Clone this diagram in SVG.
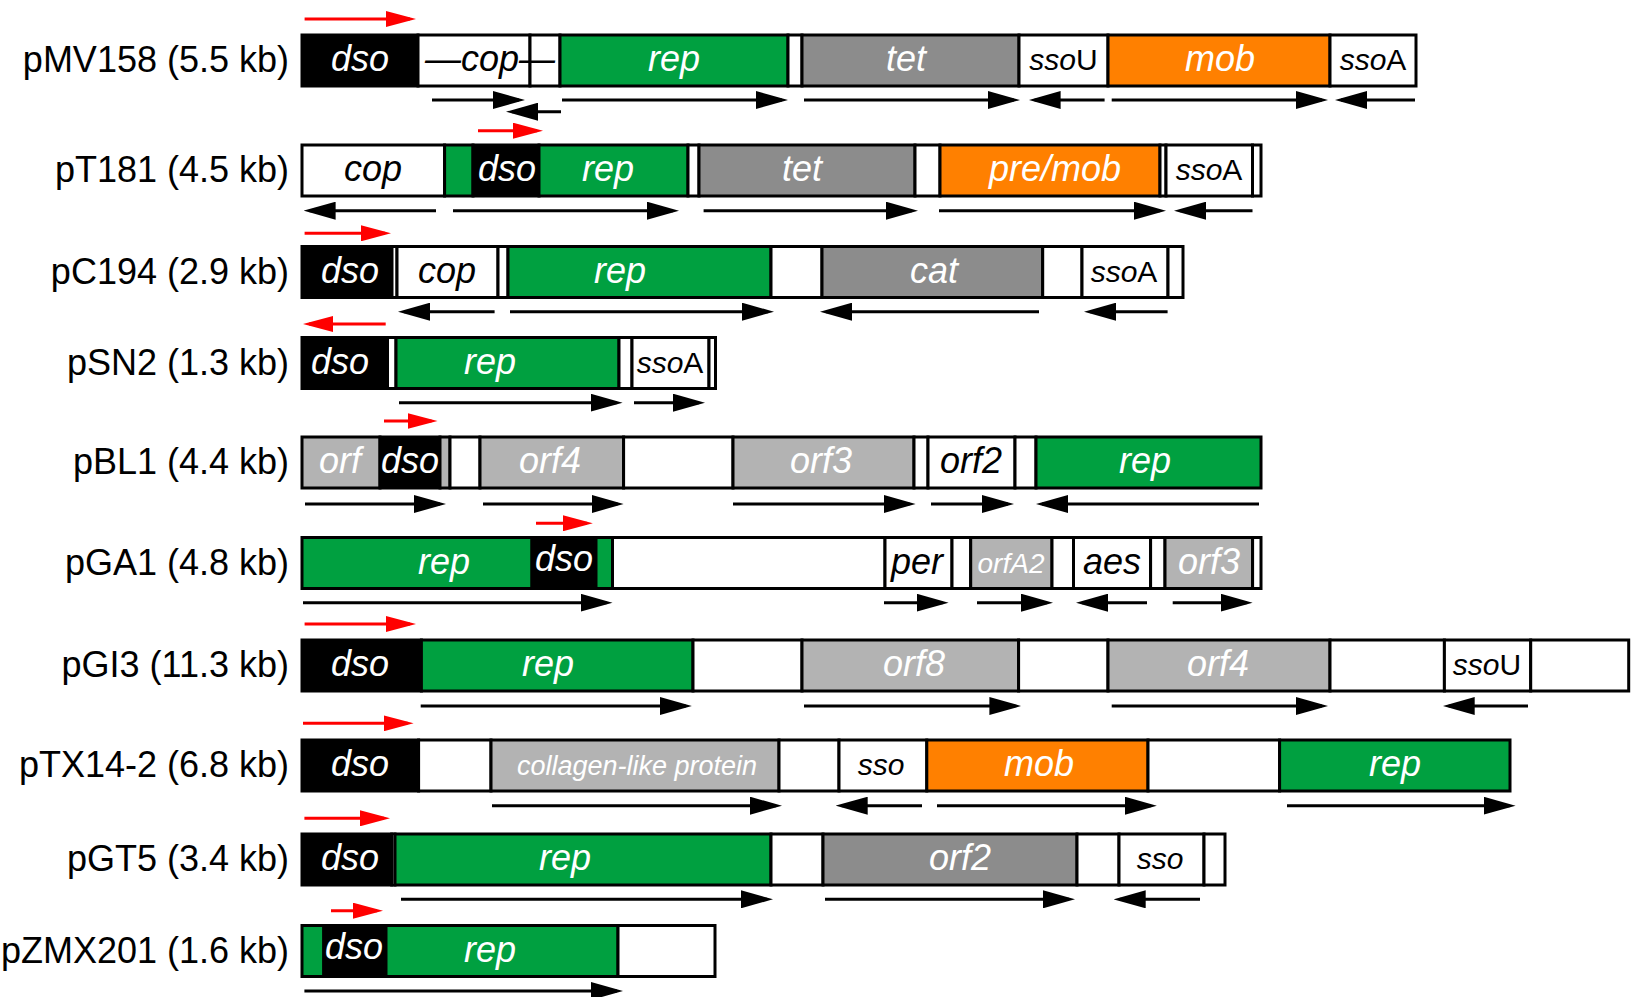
<svg xmlns="http://www.w3.org/2000/svg" width="1632" height="997" viewBox="0 0 1632 997">
<style>
.bg{fill:#fff}
.s{stroke:#000;stroke-width:3}
.k{fill:#000}.w{fill:#fff}.g{fill:#00a040}.o{fill:#ff8000}.dg{fill:#8c8c8c}.lg{fill:#b3b3b3}
.lbl{font-family:"Liberation Sans",Arial,sans-serif;font-size:36px;text-anchor:end;fill:#000}
.gt{font-family:"Liberation Sans",Arial,sans-serif;font-size:36px;font-style:italic;text-anchor:middle;fill:#fff}
.gb{font-family:"Liberation Sans",Arial,sans-serif;font-size:36px;font-style:italic;text-anchor:middle;fill:#000}
.sl{font-family:"Liberation Sans",Arial,sans-serif;font-size:30px;text-anchor:middle;fill:#000}
.it{font-style:italic}
.ar{stroke:#000;stroke-width:3;fill:none;marker-end:url(#ah)}
.rr{stroke:#f00;stroke-width:3;fill:none;marker-end:url(#rh)}
</style>
<defs>
<marker id="ah" markerUnits="userSpaceOnUse" markerWidth="32" markerHeight="18" refX="26" refY="9" orient="auto"><path d="M0,0 L32,9 L0,18 z" fill="#000"/></marker>
<marker id="rh" markerUnits="userSpaceOnUse" markerWidth="30" markerHeight="16" refX="24" refY="8" orient="auto"><path d="M0,0 L30,8 L0,16 z" fill="#f00"/></marker>
</defs>
<rect class="bg" x="0" y="0" width="1632" height="997"/>

<g id="pMV158">
<text class="lbl" x="289" y="72">pMV158 (5.5 kb)</text>
<rect class="s k" x="302" y="35" width="116" height="51"/>
<rect class="s w" x="418" y="35" width="112" height="51"/>
<rect class="s w" x="530" y="35" width="30" height="51"/>
<rect class="s g" x="560" y="35" width="228" height="51"/>
<rect class="s w" x="788" y="35" width="14" height="51"/>
<rect class="s dg" x="802" y="35" width="217" height="51"/>
<rect class="s w" x="1019" y="35" width="89" height="51"/>
<rect class="s o" x="1108" y="35" width="222" height="51"/>
<rect class="s w" x="1330" y="35" width="86" height="51"/>
<text class="gt" x="360" y="71">dso</text>
<text class="gb" x="425" y="71" style="text-anchor:start">—cop—</text>
<text class="gt" x="674" y="71">rep</text>
<text class="gt" x="906" y="71">tet</text>
<text class="sl" x="1063.5" y="70"><tspan class="it">sso</tspan>U</text>
<text class="gt" x="1220" y="71">mob</text>
<text class="sl" x="1373" y="70"><tspan class="it">sso</tspan>A</text>
</g>

<g id="pT181">
<text class="lbl" x="289" y="182">pT181 (4.5 kb)</text>
<rect class="s w" x="302" y="145" width="142.6" height="51"/>
<rect class="s g" x="444.6" y="145" width="28.4" height="51"/>
<rect class="s k" x="473" y="145" width="66" height="51"/>
<rect class="s g" x="539" y="145" width="149" height="51"/>
<rect class="s w" x="688" y="145" width="11" height="51"/>
<rect class="s dg" x="699" y="145" width="216" height="51"/>
<rect class="s w" x="915" y="145" width="25" height="51"/>
<rect class="s o" x="940" y="145" width="220" height="51"/>
<rect class="s w" x="1160" y="145" width="6" height="51"/>
<rect class="s w" x="1166" y="145" width="86.5" height="51"/>
<rect class="s w" x="1252.5" y="145" width="8.5" height="51"/>
<text class="gb" x="373" y="181">cop</text>
<text class="gt" x="507" y="181">dso</text>
<text class="gt" x="608" y="181">rep</text>
<text class="gt" x="802" y="181">tet</text>
<text class="gt" x="1055" y="181">pre/mob</text>
<text class="sl" x="1209" y="180"><tspan class="it">sso</tspan>A</text>
</g>

<g id="pC194">
<text class="lbl" x="289" y="283.5">pC194 (2.9 kb)</text>
<rect class="s k" x="302" y="246.5" width="90" height="51"/>
<rect class="s w" x="392" y="246.5" width="5" height="51"/>
<rect class="s w" x="397" y="246.5" width="101" height="51"/>
<rect class="s w" x="498" y="246.5" width="10" height="51"/>
<rect class="s g" x="508" y="246.5" width="263" height="51"/>
<rect class="s w" x="771" y="246.5" width="51" height="51"/>
<rect class="s dg" x="822" y="246.5" width="220.7" height="51"/>
<rect class="s w" x="1042.7" y="246.5" width="39.3" height="51"/>
<rect class="s w" x="1082" y="246.5" width="86" height="51"/>
<rect class="s w" x="1168" y="246.5" width="15" height="51"/>
<text class="gt" x="350" y="282.5">dso</text>
<text class="gb" x="447" y="282.5">cop</text>
<text class="gt" x="620" y="282.5">rep</text>
<text class="gt" x="934" y="282.5">cat</text>
<text class="sl" x="1124" y="281.5"><tspan class="it">sso</tspan>A</text>
</g>

<g id="pSN2">
<text class="lbl" x="289" y="374.5">pSN2 (1.3 kb)</text>
<rect class="s k" x="302" y="337.5" width="85.5" height="51"/>
<rect class="s w" x="387.5" y="337.5" width="8.5" height="51"/>
<rect class="s g" x="396" y="337.5" width="223" height="51"/>
<rect class="s w" x="619" y="337.5" width="13" height="51"/>
<rect class="s w" x="632" y="337.5" width="77" height="51"/>
<rect class="s w" x="709" y="337.5" width="6.5" height="51"/>
<text class="gt" x="340" y="373.5">dso</text>
<text class="gt" x="490" y="373.5">rep</text>
<text class="sl" x="670" y="372.5"><tspan class="it">sso</tspan>A</text>
</g>

<g id="pBL1">
<text class="lbl" x="289" y="474">pBL1 (4.4 kb)</text>
<rect class="s lg" x="302" y="437" width="78" height="51"/>
<rect class="s k" x="380" y="437" width="60" height="51"/>
<rect class="s lg" x="440" y="437" width="10" height="51"/>
<rect class="s w" x="450" y="437" width="30" height="51"/>
<rect class="s lg" x="480" y="437" width="143.6" height="51"/>
<rect class="s w" x="623.6" y="437" width="109.4" height="51"/>
<rect class="s lg" x="733" y="437" width="181" height="51"/>
<rect class="s w" x="914" y="437" width="14" height="51"/>
<rect class="s w" x="928" y="437" width="87" height="51"/>
<rect class="s w" x="1015" y="437" width="21" height="51"/>
<rect class="s g" x="1036" y="437" width="225" height="51"/>
<text class="gt" x="340" y="473">orf</text>
<text class="gt" x="410" y="473">dso</text>
<text class="gt" x="550" y="473">orf4</text>
<text class="gt" x="821" y="473">orf3</text>
<text class="gb" x="971" y="473">orf2</text>
<text class="gt" x="1145" y="473">rep</text>
</g>

<g id="pGA1">
<text class="lbl" x="289" y="574.5">pGA1 (4.8 kb)</text>
<rect class="s g" x="302" y="537.5" width="230" height="51"/>
<rect class="s k" x="532" y="537.5" width="64" height="51"/>
<rect class="s g" x="596" y="537.5" width="16.5" height="51"/>
<rect class="s w" x="612.5" y="537.5" width="272.5" height="51"/>
<rect class="s w" x="885" y="537.5" width="67" height="51"/>
<rect class="s w" x="952" y="537.5" width="18.7" height="51"/>
<rect class="s lg" x="970.7" y="537.5" width="81.3" height="51"/>
<rect class="s w" x="1052" y="537.5" width="21.5" height="51"/>
<rect class="s w" x="1073.5" y="537.5" width="77.1" height="51"/>
<rect class="s w" x="1150.6" y="537.5" width="14.4" height="51"/>
<rect class="s lg" x="1165" y="537.5" width="87.6" height="51"/>
<rect class="s w" x="1252.6" y="537.5" width="8.4" height="51"/>
<text class="gt" x="444" y="573.5">rep</text>
<text class="gt" x="564" y="571">dso</text>
<text class="gb" x="917" y="574">per</text>
<text class="gt" x="1011" y="573" style="font-size:28px">orfA2</text>
<text class="gb" x="1112" y="574">aes</text>
<text class="gt" x="1209" y="573.5">orf3</text>
</g>

<g id="pGI3">
<text class="lbl" x="289" y="677">pGI3 (11.3 kb)</text>
<rect class="s k" x="302" y="640" width="119.4" height="51"/>
<rect class="s g" x="421.4" y="640" width="271.6" height="51"/>
<rect class="s w" x="693" y="640" width="109" height="51"/>
<rect class="s lg" x="802" y="640" width="216.6" height="51"/>
<rect class="s w" x="1018.6" y="640" width="89.4" height="51"/>
<rect class="s lg" x="1108" y="640" width="222" height="51"/>
<rect class="s w" x="1330" y="640" width="114.4" height="51"/>
<rect class="s w" x="1444.4" y="640" width="86.3" height="51"/>
<rect class="s w" x="1530.7" y="640" width="98" height="51"/>
<text class="gt" x="360" y="676">dso</text>
<text class="gt" x="548" y="676">rep</text>
<text class="gt" x="914" y="676">orf8</text>
<text class="gt" x="1218" y="676">orf4</text>
<text class="sl" x="1487" y="675"><tspan class="it">sso</tspan>U</text>
</g>

<g id="pTX14-2">
<text class="lbl" x="289" y="777">pTX14-2 (6.8 kb)</text>
<rect class="s k" x="302" y="740" width="116.6" height="51"/>
<rect class="s w" x="418.6" y="740" width="72.4" height="51"/>
<rect class="s lg" x="491" y="740" width="288" height="51"/>
<rect class="s w" x="779" y="740" width="60" height="51"/>
<rect class="s w" x="839" y="740" width="87.8" height="51"/>
<rect class="s o" x="926.8" y="740" width="221.2" height="51"/>
<rect class="s w" x="1148" y="740" width="131.6" height="51"/>
<rect class="s g" x="1279.6" y="740" width="230.4" height="51"/>
<text class="gt" x="360" y="776">dso</text>
<text class="gt" x="637" y="774.5" style="font-size:27px">collagen-like protein</text>
<text class="gb" x="881" y="775" style="font-size:30px">sso</text>
<text class="gt" x="1039" y="776">mob</text>
<text class="gt" x="1395" y="776">rep</text>
</g>

<g id="pGT5">
<text class="lbl" x="289" y="871">pGT5 (3.4 kb)</text>
<rect class="s k" x="302" y="834" width="89.7" height="51"/>
<rect class="s w" x="391.7" y="834" width="3.3" height="51"/>
<rect class="s g" x="395" y="834" width="376" height="51"/>
<rect class="s w" x="771" y="834" width="52" height="51"/>
<rect class="s dg" x="823" y="834" width="254" height="51"/>
<rect class="s w" x="1077" y="834" width="42" height="51"/>
<rect class="s w" x="1119" y="834" width="85" height="51"/>
<rect class="s w" x="1204" y="834" width="21" height="51"/>
<text class="gt" x="350" y="870">dso</text>
<text class="gt" x="565" y="870">rep</text>
<text class="gt" x="960" y="870">orf2</text>
<text class="gb" x="1160" y="869" style="font-size:30px">sso</text>
</g>

<g id="pZMX201">
<text class="lbl" x="289" y="962.5">pZMX201 (1.6 kb)</text>
<rect class="s g" x="302" y="925.5" width="21.8" height="51"/>
<rect class="s k" x="323.8" y="925.5" width="62.2" height="51"/>
<rect class="s g" x="386" y="925.5" width="232" height="51"/>
<rect class="s w" x="618" y="925.5" width="97" height="51"/>
<text class="gt" x="354" y="959">dso</text>
<text class="gt" x="490" y="961.5">rep</text>
</g>

<g id="connectors">
<line class="ar" x1="432" y1="100" x2="519" y2="100"/>
<line class="ar" x1="561" y1="111.7" x2="512" y2="111.7"/>
<line class="ar" x1="562" y1="100" x2="782" y2="100"/>
<line class="ar" x1="804" y1="100" x2="1014" y2="100"/>
<line class="ar" x1="1104.6" y1="100" x2="1034.6" y2="100"/>
<line class="ar" x1="1111.7" y1="100" x2="1322" y2="100"/>
<line class="ar" x1="1415" y1="100" x2="1341" y2="100"/>

<line class="ar" x1="436" y1="210.7" x2="309.6" y2="210.7"/>
<line class="ar" x1="453" y1="210.7" x2="673" y2="210.7"/>
<line class="ar" x1="703.6" y1="210.7" x2="912" y2="210.7"/>
<line class="ar" x1="939" y1="210.7" x2="1160" y2="210.7"/>
<line class="ar" x1="1252.5" y1="210.7" x2="1180" y2="210.7"/>

<line class="ar" x1="494.6" y1="311.7" x2="404" y2="311.7"/>
<line class="ar" x1="510" y1="311.7" x2="768" y2="311.7"/>
<line class="ar" x1="1039" y1="311.7" x2="826" y2="311.7"/>
<line class="ar" x1="1167.6" y1="311.7" x2="1090" y2="311.7"/>

<line class="ar" x1="399" y1="402.7" x2="616.6" y2="402.7"/>
<line class="ar" x1="634" y1="402.7" x2="699" y2="402.7"/>

<line class="ar" x1="305" y1="504" x2="440" y2="504"/>
<line class="ar" x1="483" y1="504" x2="617.6" y2="504"/>
<line class="ar" x1="733" y1="504" x2="909.6" y2="504"/>
<line class="ar" x1="931" y1="504" x2="1008" y2="504"/>
<line class="ar" x1="1259" y1="504" x2="1042" y2="504"/>

<line class="ar" x1="303" y1="602.7" x2="606.5" y2="602.7"/>
<line class="ar" x1="884" y1="602.7" x2="942.6" y2="602.7"/>
<line class="ar" x1="977" y1="602.7" x2="1047" y2="602.7"/>
<line class="ar" x1="1147" y1="602.7" x2="1082" y2="602.7"/>
<line class="ar" x1="1172.7" y1="602.7" x2="1246.6" y2="602.7"/>

<line class="ar" x1="420.7" y1="706" x2="685.8" y2="706"/>
<line class="ar" x1="804" y1="706" x2="1015.4" y2="706"/>
<line class="ar" x1="1111.7" y1="706" x2="1322" y2="706"/>
<line class="ar" x1="1528" y1="706" x2="1448.7" y2="706"/>

<line class="ar" x1="492" y1="805.7" x2="776" y2="805.7"/>
<line class="ar" x1="922" y1="805.7" x2="841.7" y2="805.7"/>
<line class="ar" x1="937" y1="805.7" x2="1150.8" y2="805.7"/>
<line class="ar" x1="1287" y1="805.7" x2="1509.6" y2="805.7"/>

<line class="ar" x1="401" y1="899.3" x2="767" y2="899.3"/>
<line class="ar" x1="825" y1="899.3" x2="1069" y2="899.3"/>
<line class="ar" x1="1200" y1="899.3" x2="1119.7" y2="899.3"/>

<line class="ar" x1="304.4" y1="991" x2="617" y2="991"/>

<line class="rr" x1="304.6" y1="19" x2="410" y2="19"/>
<line class="rr" x1="478" y1="130.7" x2="537" y2="130.7"/>
<line class="rr" x1="304.6" y1="233.3" x2="385" y2="233.3"/>
<line class="rr" x1="385.7" y1="324" x2="309" y2="324"/>
<line class="rr" x1="384" y1="421" x2="431.5" y2="421"/>
<line class="rr" x1="536" y1="523.3" x2="586.8" y2="523.3"/>
<line class="rr" x1="304.6" y1="624" x2="410" y2="624"/>
<line class="rr" x1="303" y1="723.3" x2="407.6" y2="723.3"/>
<line class="rr" x1="304.4" y1="818.3" x2="384" y2="818.3"/>
<line class="rr" x1="331" y1="910.7" x2="377" y2="910.7"/>
</g>
</svg>
